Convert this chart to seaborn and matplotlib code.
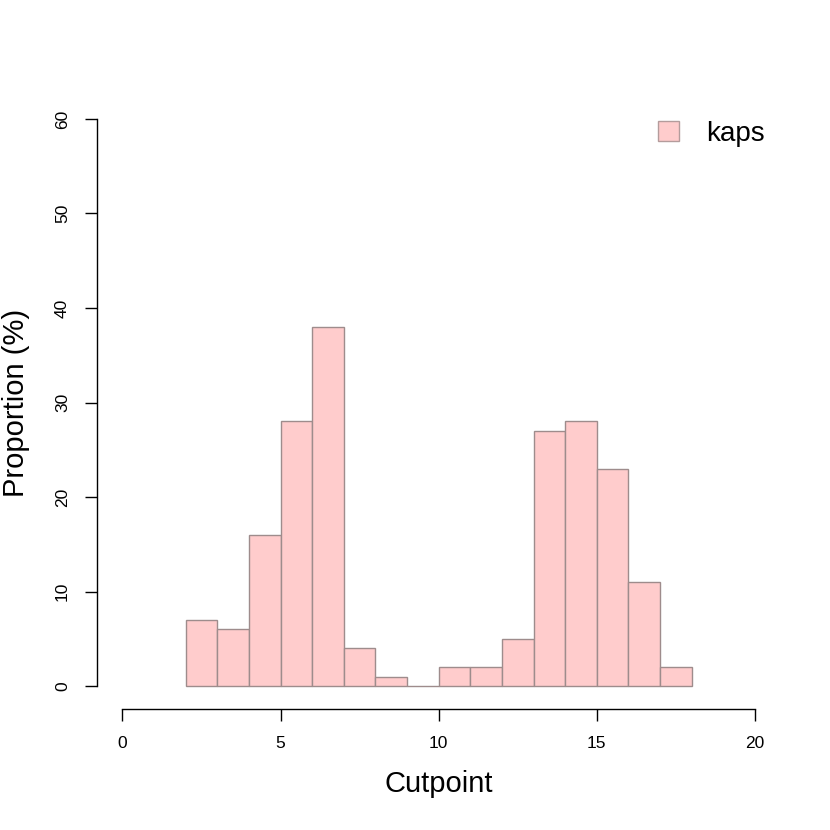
import matplotlib
matplotlib.use("Agg")
import matplotlib.pyplot as plt
import seaborn as sns
import numpy as np

# histogram bins (cutpoint) and proportions
bin_edges = list(range(2, 19))
bin_mids = [2.5, 3.5, 4.5, 5.5, 6.5, 7.5, 8.5, 9.5, 10.5, 11.5, 12.5, 13.5, 14.5, 15.5, 16.5, 17.5]
proportion = [7, 6, 16, 28, 38, 4, 1, 0, 2, 2, 5, 27, 28, 23, 11, 2]
x_ticks = [0, 5, 10, 15, 20]
y_ticks = [0, 10, 20, 30, 40, 50, 60]

sns.set_style("ticks")
plt.rcParams['font.family'] = ['Liberation Sans', 'DejaVu Sans']

fig = plt.figure(figsize=(8.3, 8.3), dpi=100)
ax = fig.add_axes([0.117, 0.146, 0.823, 0.738])

sns.histplot(x=bin_mids, weights=proportion, bins=bin_edges, stat="count",
             color="#ffcccc", alpha=1, edgecolor="#9e8c8c", linewidth=1,
             label="kaps", ax=ax)

ax.set_xlim(-0.8, 20.8)
ax.set_ylim(-2.4, 62.4)
ax.set_xticks(x_ticks)
ax.set_yticks(y_ticks)
ax.spines['top'].set_visible(False)
ax.spines['right'].set_visible(False)
ax.spines['bottom'].set_bounds(0, 20)
ax.spines['left'].set_bounds(0, 60)
for s in ['bottom', 'left']:
    ax.spines[s].set_color('black')
    ax.spines[s].set_linewidth(1)
ax.tick_params(axis='both', length=8.5, width=1, colors='black', labelsize=12.5, pad=11)
plt.setp(ax.get_yticklabels(), rotation=90, va='center')

ax.set_xlabel("Cutpoint", fontsize=21, labelpad=14, color='black')
ax.set_ylabel("Proportion (%)", fontsize=21, labelpad=18, color='black')

leg = ax.legend(loc="upper right", bbox_to_anchor=(1.0, 0.985), frameon=False,
                fontsize=20, handlelength=0.75, handleheight=0.75,
                handletextpad=1.0, borderaxespad=0.15)
for t in leg.get_texts():
    t.set_color('black')
for h in leg.legend_handles:
    h.set_edgecolor('#b49c9c')

fig.savefig("out.png", dpi=100, facecolor="white")
